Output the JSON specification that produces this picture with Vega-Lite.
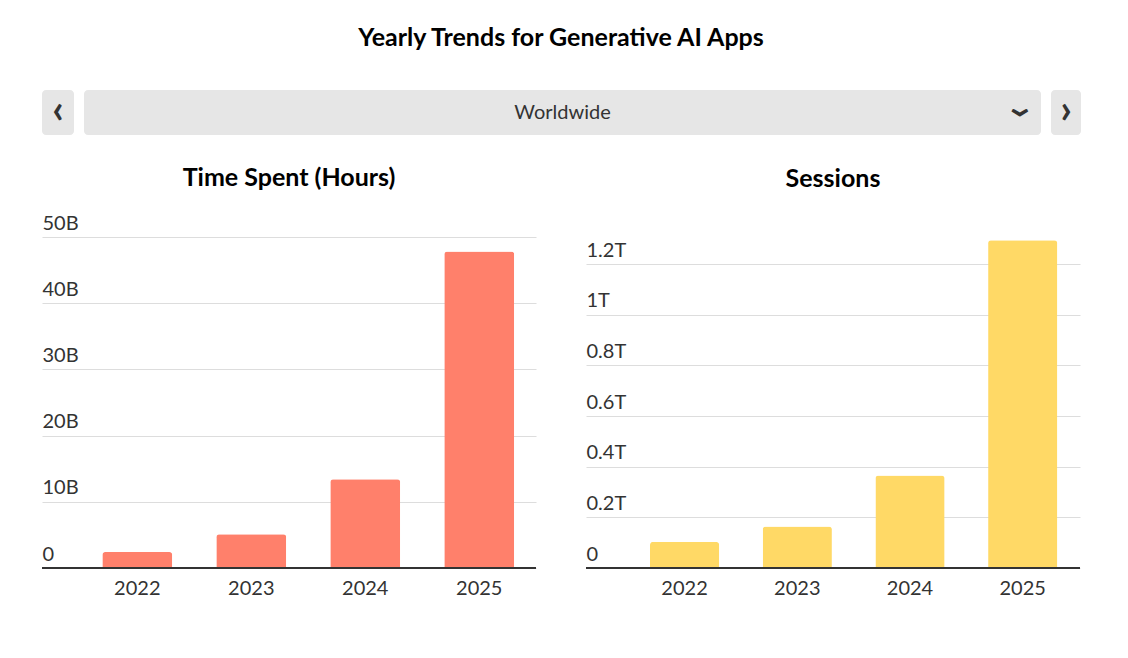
{
  "$schema": "https://vega.github.io/schema/vega-lite/v6.json",
  "background": "white",
  "padding": {"left": 41, "top": 26, "right": 48, "bottom": 50},
  "config": {"font": "Lato", "view": {"stroke": null}},
  "title": {"text": "Yearly Trends for Generative AI Apps", "font": "Lato", "fontSize": 25, "fontWeight": "bold", "color": "#000000", "anchor": "middle", "offset": 39},
  "datasets": {
    "time": [
      {"year": "2022", "hours": 2.4e9},
      {"year": "2023", "hours": 5.1e9},
      {"year": "2024", "hours": 13.4e9},
      {"year": "2025", "hours": 47.8e9}
    ],
    "sessions": [
      {"year": "2022", "sessions": 0.103e12},
      {"year": "2023", "sessions": 0.164e12},
      {"year": "2024", "sessions": 0.365e12},
      {"year": "2025", "sessions": 1.294e12}
    ]
  },
  "spacing": 31,
  "vconcat": [
    {
      "spacing": 10,
      "hconcat": [
        {
          "width": 32, "height": 45,
          "view": {"fill": "#e6e6e6", "stroke": null, "cornerRadius": 4},
          "data": {"values": [{"t": "‹"}]},
          "mark": {"type": "text", "font": "Lato", "fontSize": 40, "fontWeight": "bold", "color": "#333333", "baseline": "middle", "dy": -2},
          "encoding": {"text": {"field": "t"}}
        },
        {
          "width": 957, "height": 45,
          "view": {"fill": "#e6e6e6", "stroke": null, "cornerRadius": 4},
          "layer": [
            {
              "data": {"values": [{"t": "Worldwide"}]},
              "mark": {"type": "text", "font": "Lato", "fontSize": 20, "color": "#333333", "baseline": "middle"},
              "encoding": {"text": {"field": "t"}}
            },
            {
              "data": {"values": [{"t": "›"}]},
              "mark": {"type": "text", "font": "Lato", "fontSize": 40, "fontWeight": "bold", "color": "#333333", "baseline": "middle", "align": "center", "angle": 90, "x": "width", "dy": 20},
              "encoding": {"text": {"field": "t"}}
            }
          ]
        },
        {
          "width": 30, "height": 45,
          "view": {"fill": "#e6e6e6", "stroke": null, "cornerRadius": 4},
          "data": {"values": [{"t": "›"}]},
          "mark": {"type": "text", "font": "Lato", "fontSize": 40, "fontWeight": "bold", "color": "#333333", "baseline": "middle", "dy": -2},
          "encoding": {"text": {"field": "t"}}
        }
      ]
    },
    {
      "spacing": 48,
      "hconcat": [
        {
          "width": 494, "height": 331,
          "title": {"text": "Time Spent (Hours)", "font": "Lato", "fontSize": 25, "fontWeight": "bold", "color": "#000000", "offset": 22},
          "data": {"name": "time"},
          "encoding": {
            "x": {"field": "year", "type": "ordinal", "scale": {"paddingInner": 0.386, "paddingOuter": 0.36, "align": 0.735},
                  "axis": {"title": null, "domain": false, "ticks": false, "labelPadding": 26, "labelBaseline": "alphabetic", "labelFontSize": 20, "labelColor": "#333333", "labelAngle": 0, "labelFont": "Lato"}},
            "y": {"field": "hours", "type": "quantitative", "scale": {"domain": [0, 5e10], "nice": false},
                  "axis": {"title": null, "values": [0, 1e10, 2e10, 3e10, 4e10, 5e10], "domain": false, "ticks": false, "labelAlign": "left", "labelPadding": 0, "labelBaseline": "alphabetic", "labelOffset": -8, "labelFontSize": 20, "labelColor": "#333333", "labelFont": "Lato", "labelExpr": "datum.value == 0 ? '0' : (datum.value / 1e9) + 'B'", "gridColor": "#dddddd", "gridWidth": 1}}
          },
          "layer": [
            {"mark": {"type": "bar", "color": "#FF806B", "cornerRadiusTopLeft": 3, "cornerRadiusTopRight": 3}},
            {"mark": {"type": "rule", "color": "#333333", "strokeWidth": 2}, "encoding": {"x": null, "y": {"datum": 0, "type": "quantitative"}}}
          ]
        },
        {
          "width": 494, "height": 331,
          "title": {"text": "Sessions", "font": "Lato", "fontSize": 25, "fontWeight": "bold", "color": "#000000", "offset": 45},
          "data": {"name": "sessions"},
          "encoding": {
            "x": {"field": "year", "type": "ordinal", "scale": {"paddingInner": 0.386, "paddingOuter": 0.3846, "align": 0.738},
                  "axis": {"title": null, "domain": false, "ticks": false, "labelPadding": 26, "labelBaseline": "alphabetic", "labelFontSize": 20, "labelColor": "#333333", "labelAngle": 0, "labelFont": "Lato"}},
            "y": {"field": "sessions", "type": "quantitative", "scale": {"domain": [0, 1.307e12], "nice": false},
                  "axis": {"title": null, "values": [0, 2e11, 4e11, 6e11, 8e11, 1e12, 1.2e12], "domain": false, "ticks": false, "labelAlign": "left", "labelPadding": 0, "labelBaseline": "alphabetic", "labelOffset": -8, "labelFontSize": 20, "labelColor": "#333333", "labelFont": "Lato", "labelExpr": "datum.value == 0 ? '0' : format(datum.value / 1e12, '~g') + 'T'", "gridColor": "#dddddd", "gridWidth": 1}}
          },
          "layer": [
            {"mark": {"type": "bar", "color": "#FFD966", "cornerRadiusTopLeft": 3, "cornerRadiusTopRight": 3}},
            {"mark": {"type": "rule", "color": "#333333", "strokeWidth": 2}, "encoding": {"x": null, "y": {"datum": 0, "type": "quantitative"}}}
          ]
        }
      ]
    }
  ]
}
